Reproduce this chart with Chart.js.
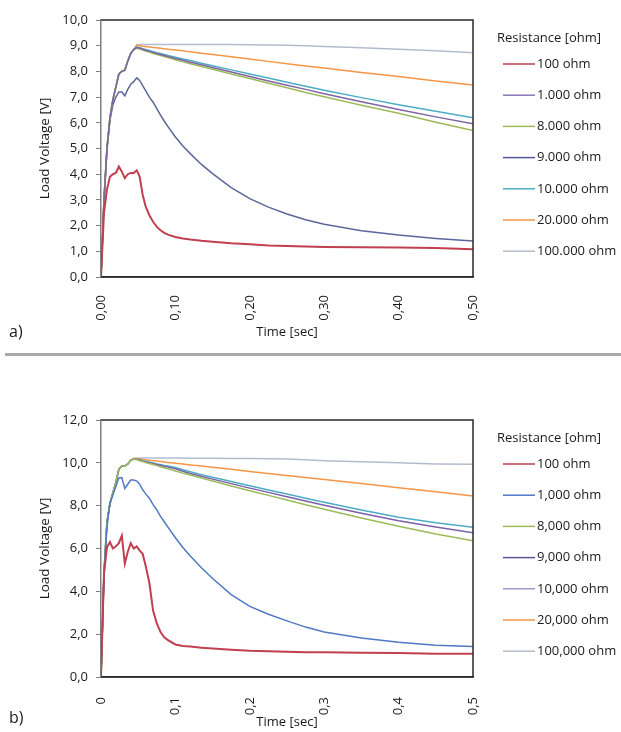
<!DOCTYPE html>
<html>
<head>
<meta charset="utf-8">
<script src="https://cdn.jsdelivr.net/npm/chart.js@4.4.1/dist/chart.umd.min.js"></script>
<style>
	body{margin:0;width:621px;height:732px;background:#fff;position:relative;overflow:hidden;font-family:"Open Sans",sans-serif;color:#1a1a1a}
	.box{position:absolute;left:0;width:621px}
	.lbl{position:absolute;left:9px;font-size:16px;line-height:20px}
	.sep{position:absolute;left:5px;width:616px;height:3px;background:#aaaaaa}
</style>
</head>
<body>
<div class="box" style="top:0;height:340px"><canvas id="chartA" width="621" height="340"></canvas></div>
<div class="lbl" style="top:321px">a)</div>
<div class="sep" style="top:353px"></div>
<div class="box" style="top:360px;height:372px"><canvas id="chartB" width="621" height="372"></canvas></div>
<div class="lbl" style="top:707px">b)</div>
<script>
// tempo [s], comune ai due grafici
const time = [0, 0.004, 0.008, 0.012, 0.016, 0.02, 0.024, 0.028, 0.032, 0.036, 0.04, 0.044, 0.048, 0.052, 0.056, 0.06, 0.065, 0.07, 0.075, 0.08, 0.085, 0.09, 0.1, 0.11, 0.12, 0.135, 0.15, 0.175, 0.2, 0.225, 0.25, 0.275, 0.3, 0.35, 0.4, 0.45, 0.5];

// ---- grafico a) ----
const labelsA = ["100 ohm", "1.000 ohm", "8.000 ohm", "9.000 ohm", "10.000 ohm", "20.000 ohm", "100.000 ohm"];
const a100    = [0, 2.5, 3.4, 3.9, 4.0, 4.05, 4.3, 4.1, 3.85, 4.0, 4.05, 4.05, 4.15, 3.9, 3.2, 2.75, 2.4, 2.15, 1.95, 1.82, 1.72, 1.65, 1.56, 1.5, 1.46, 1.41, 1.37, 1.31, 1.27, 1.23, 1.21, 1.19, 1.17, 1.16, 1.15, 1.13, 1.08];
const a1000   = [0, 3.0, 5.0, 6.2, 6.9, 7.4, 7.9, 8.0, 8.05, 8.4, 8.7, 8.85, 8.93, 8.9, 8.86, 8.82, 8.78, 8.74, 8.7, 8.66, 8.62, 8.58, 8.5, 8.43, 8.36, 8.26, 8.15, 7.98, 7.8, 7.63, 7.46, 7.3, 7.13, 6.82, 6.52, 6.23, 5.96];
const a8000   = [0, 3.0, 5.0, 6.2, 6.9, 7.4, 7.9, 8.0, 8.05, 8.4, 8.7, 8.85, 8.9, 8.87, 8.83, 8.79, 8.75, 8.7, 8.66, 8.62, 8.58, 8.54, 8.45, 8.37, 8.3, 8.19, 8.08, 7.9, 7.72, 7.54, 7.36, 7.18, 7.01, 6.68, 6.37, 6.02, 5.7];
const a9000   = [0, 3.0, 5.0, 6.1, 6.7, 7.0, 7.2, 7.2, 7.05, 7.3, 7.5, 7.6, 7.75, 7.65, 7.45, 7.25, 7.0, 6.8, 6.55, 6.3, 6.07, 5.85, 5.45, 5.1, 4.8, 4.38, 4.02, 3.48, 3.05, 2.72, 2.45, 2.23, 2.05, 1.8, 1.63, 1.5, 1.4];
const a10000  = [0, 2.9, 4.9, 6.1, 6.9, 7.4, 7.9, 8.0, 8.05, 8.4, 8.7, 8.85, 8.95, 8.92, 8.88, 8.85, 8.81, 8.77, 8.73, 8.7, 8.66, 8.62, 8.55, 8.48, 8.42, 8.32, 8.22, 8.06, 7.9, 7.74, 7.58, 7.42, 7.27, 6.98, 6.7, 6.45, 6.2];
const a20000  = [0, 3.0, 5.0, 6.2, 6.9, 7.4, 7.9, 8.0, 8.05, 8.4, 8.7, 8.85, 9.02, 9.0, 8.98, 8.97, 8.95, 8.93, 8.92, 8.9, 8.88, 8.86, 8.83, 8.8, 8.76, 8.71, 8.66, 8.57, 8.48, 8.39, 8.3, 8.21, 8.13, 7.96, 7.8, 7.63, 7.47];
const a100000 = [0, 3.0, 5.0, 6.2, 6.9, 7.4, 7.9, 8.0, 8.05, 8.4, 8.7, 8.85, 9.02, 9.05, 9.05, 9.05, 9.05, 9.05, 9.05, 9.05, 9.05, 9.05, 9.05, 9.05, 9.05, 9.05, 9.05, 9.05, 9.04, 9.03, 9.02, 9.0, 8.97, 8.92, 8.86, 8.8, 8.73];
const seriesA = [a100, a1000, a8000, a9000, a10000, a20000, a100000];
const lineColorsA   = ["#c0404f", "#8064a2", "#9bbb59", "#5c6699", "#4bacc6", "#f79646", "#b3bccf"];
const legendColorsA = ["#c0404f", "#8a74b8", "#9bbb59", "#55589a", "#4bacc6", "#f79646", "#b3bccf"];

// ---- grafico b) ----
const labelsB = ["100 ohm", "1,000 ohm", "8,000 ohm", "9,000 ohm", "10,000 ohm", "20,000 ohm", "100,000 ohm"];
const b100    = [0, 4.8, 6.05, 6.3, 6.0, 6.1, 6.25, 6.6, 5.3, 5.85, 6.25, 6.0, 6.1, 5.9, 5.75, 5.2, 4.4, 3.1, 2.5, 2.1, 1.85, 1.72, 1.52, 1.45, 1.42, 1.37, 1.33, 1.27, 1.22, 1.2, 1.18, 1.16, 1.15, 1.13, 1.12, 1.08, 1.08];
const b1000   = [0, 4.8, 7.0, 8.1, 8.5, 8.9, 9.3, 9.3, 8.8, 9.0, 9.2, 9.2, 9.15, 9.0, 8.75, 8.55, 8.35, 8.05, 7.8, 7.5, 7.25, 7.0, 6.5, 6.05, 5.65, 5.1, 4.6, 3.85, 3.3, 2.93, 2.62, 2.33, 2.1, 1.82, 1.62, 1.48, 1.42];
const b8000   = [0, 4.8, 7.2, 8.1, 8.6, 9.1, 9.7, 9.85, 9.85, 9.95, 10.12, 10.18, 10.15, 10.1, 10.06, 10.02, 9.97, 9.92, 9.87, 9.82, 9.77, 9.72, 9.62, 9.52, 9.43, 9.29, 9.15, 8.92, 8.7, 8.48, 8.26, 8.04, 7.83, 7.42, 7.04, 6.68, 6.36];
const b9000   = [0, 4.8, 7.2, 8.1, 8.6, 9.1, 9.7, 9.85, 9.85, 9.95, 10.12, 10.18, 10.17, 10.12, 10.08, 10.05, 10.0, 9.96, 9.92, 9.88, 9.84, 9.8, 9.72, 9.61, 9.5, 9.37, 9.24, 9.03, 8.82, 8.62, 8.42, 8.22, 8.02, 7.65, 7.3, 7.0, 6.74];
const b10000  = [0, 4.9, 7.3, 8.1, 8.6, 9.1, 9.7, 9.85, 9.85, 9.95, 10.12, 10.18, 10.18, 10.14, 10.1, 10.07, 10.03, 9.99, 9.95, 9.92, 9.88, 9.85, 9.78, 9.68, 9.58, 9.45, 9.33, 9.13, 8.93, 8.73, 8.54, 8.35, 8.16, 7.8, 7.46, 7.2, 6.99];
const b20000  = [0, 4.8, 7.2, 8.1, 8.6, 9.1, 9.7, 9.85, 9.85, 9.95, 10.12, 10.2, 10.2, 10.18, 10.16, 10.14, 10.12, 10.1, 10.08, 10.06, 10.04, 10.02, 9.98, 9.94, 9.9, 9.85, 9.79, 9.7, 9.6, 9.5, 9.41, 9.31, 9.22, 9.03, 8.84, 8.65, 8.45];
const b100000 = [0, 4.8, 7.2, 8.1, 8.6, 9.1, 9.7, 9.85, 9.85, 9.95, 10.12, 10.2, 10.2, 10.22, 10.22, 10.22, 10.22, 10.22, 10.22, 10.22, 10.22, 10.22, 10.22, 10.22, 10.21, 10.21, 10.21, 10.2, 10.2, 10.19, 10.18, 10.14, 10.1, 10.05, 10.0, 9.95, 9.93];
const seriesB = [b100, b1000, b8000, b9000, b10000, b20000, b100000];
const lineColorsB   = ["#c0404f", "#4f79c4", "#9bbb59", "#7b5fa8", "#4bacc6", "#f79646", "#b3bccf"];
const legendColorsB = ["#c0404f", "#4f79c4", "#9bbb59", "#5d559a", "#a497cc", "#f79646", "#b3bccf"];

const FONT = '"Open Sans", sans-serif';
const TXT = '#1a1a1a';

// legenda a destra, disegnata come in Excel
const sideLegend = {
	id: 'sideLegend',
	afterDraw(chart, args, opts){
		const {ctx, chartArea} = chart;
		const x0 = chartArea.right + 24;
		ctx.save();
		ctx.font = '13px ' + FONT;
		ctx.fillStyle = TXT;
		ctx.textBaseline = 'middle';
		ctx.fillText(opts.title, x0, chartArea.top + 18);
		chart.data.datasets.forEach((ds, i) => {
			const y = chartArea.top + 44 + i * 31.2;
			ctx.strokeStyle = opts.colors[i];
			ctx.lineWidth = 1.5;
			ctx.beginPath();
			ctx.moveTo(x0 + 6, y);
			ctx.lineTo(x0 + 38, y);
			ctx.stroke();
			ctx.fillText(ds.label, x0 + 40, y);
		});
		ctx.restore();
	}
};

// cornice dell'area del grafico (sopra, destra, sotto)
const plotFrame = {
	id: 'plotFrame',
	afterDraw(chart){
		const {ctx, chartArea: c} = chart;
		ctx.save();
		ctx.strokeStyle = '#2a2a2a';
		ctx.lineWidth = 1.5;
		ctx.beginPath();
		ctx.moveTo(c.left, c.top);
		ctx.lineTo(c.right, c.top);
		ctx.lineTo(c.right, c.bottom);
		ctx.lineTo(c.left, c.bottom);
		ctx.stroke();
		ctx.restore();
	}
};

function creaGrafico(idCanvas, labels, series, lineColors, legendColors, cfg){
	const ctx = document.getElementById(idCanvas).getContext('2d');
	const datasets = series.map((s, i) => ({
		label: labels[i],
		data: time.map((t, k) => ({x: t, y: s[k]})),
		borderColor: lineColors[i],
		borderWidth: i === 0 ? 2 : 1.5,
		pointRadius: 0,
		tension: 0,
		fill: false
	}));

	return new Chart(ctx, {
		type: 'line',
		data: {datasets: datasets},
		options: {
			responsive: false,
			animation: false,
			layout: {padding: {top: cfg.padTop, right: 148, bottom: 0, left: 0}},
			scales: {
				x: {
					type: 'linear',
					min: 0, max: 0.5,
					afterFit: (s) => { s.height = cfg.xHeight; },
					grid: {display: false},
					border: {display: true, color: '#2a2a2a', width: 1.5},
					ticks: {
						stepSize: 0.1,
						minRotation: 90, maxRotation: 90,
						padding: cfg.xPad,
						color: TXT,
						font: {family: FONT, size: 13},
						callback: cfg.xFmt
					},
					title: {display: true, text: 'Time [sec]', color: TXT, font: {family: FONT, size: 13}, padding: {top: 0, bottom: cfg.xTitlePad}}
				},
				y: {
					min: 0, max: cfg.yMax,
					afterFit: (s) => { s.width = 101; },
					grid: {display: true, drawOnChartArea: false, drawTicks: true, tickLength: 5, color: '#808080'},
					border: {display: true, color: '#808080', width: 1.5},
					ticks: {
						stepSize: cfg.yStep,
						padding: 8,
						color: TXT,
						font: {family: FONT, size: 13},
						callback: (v) => v.toFixed(1).replace('.', ',')
					},
					title: {display: true, text: 'Load Voltage [V]', color: TXT, font: {family: FONT, size: 13.5}, padding: {top: 37, bottom: 0}}
				}
			},
			plugins: {
				legend: {display: false},
				tooltip: {enabled: false},
				sideLegend: {title: 'Resistance [ohm]', colors: legendColors}
			}
		},
		plugins: [plotFrame, sideLegend]
	});
}

creaGrafico('chartA', labelsA, seriesA, lineColorsA, legendColorsA, {
	padTop: 20, xHeight: 63, xPad: 10, xTitlePad: 0, yMax: 10, yStep: 1,
	xFmt: (v) => v.toFixed(2).replace('.', ',')
});
creaGrafico('chartB', labelsB, seriesB, lineColorsB, legendColorsB, {
	padTop: 60, xHeight: 55, xPad: 12, xTitlePad: 2, yMax: 12, yStep: 2,
	xFmt: (v) => v === 0 ? '0' : v.toFixed(1).replace('.', ',')
});
</script>
</body>
</html>
